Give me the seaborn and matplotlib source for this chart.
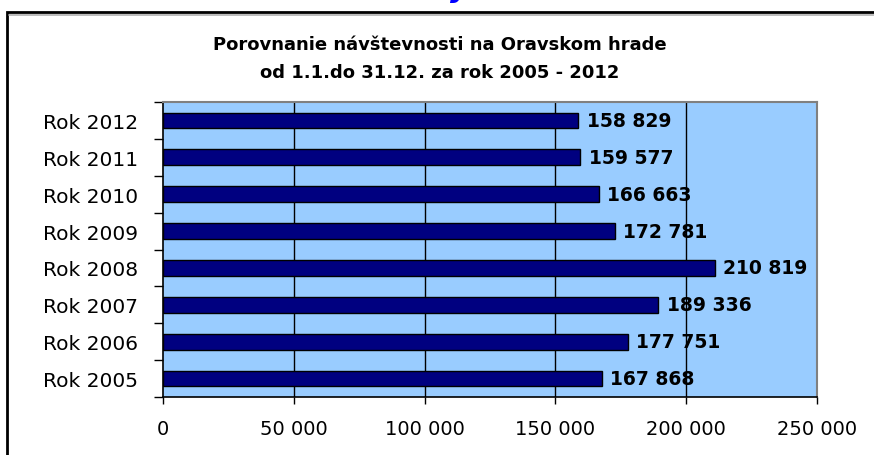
import pandas as pd
import matplotlib.pyplot as plt
import seaborn as sns
from matplotlib.patches import Rectangle
from matplotlib.lines import Line2D
from matplotlib.ticker import FixedLocator

# data
roky = ['Rok 2012', 'Rok 2011', 'Rok 2010', 'Rok 2009',
        'Rok 2008', 'Rok 2007', 'Rok 2006', 'Rok 2005']
navstevnost = [158829, 159577, 166663, 172781, 210819, 189336, 177751, 167868]
x_ticks = [0, 50000, 100000, 150000, 200000, 250000]
title_lines = ['Porovnanie návštevnosti na Oravskom hrade',
               'od 1.1.do 31.12. za rok 2005 - 2012']

df = pd.DataFrame({'rok': roky, 'navstevnost': navstevnost})


def sk_format(v):
    return f'{int(v):,}'.replace(',', ' ')


sns.set_style('white')
plt.rcParams['font.family'] = ['DejaVu Sans']
plt.rcParams['text.color'] = 'black'

W, H = 874, 456
fig = plt.figure(figsize=(W / 100, H / 100), dpi=100)
ax = fig.add_axes([163 / W, 1 - 398 / H, (817 - 163) / W, (398 - 103) / H])
ax.set_facecolor('#99CCFF')

sns.barplot(data=df, x='navstevnost', y='rok', orient='h', order=roky,
            color='#000080', saturation=1, edgecolor='black', linewidth=1,
            width=0.43, ax=ax)

ax.set_xlim(0, 250000)
ax.set_ylim(7.5, -0.5)
ax.set_xlabel('')
ax.set_ylabel('')

# vertical grid lines (inner ones only)
ax.set_axisbelow(True)
ax.set_xticks(x_ticks)
ax.set_xticklabels([sk_format(t) for t in x_ticks])
ax.xaxis.grid(True, color='black', linewidth=1)
gl = ax.get_xgridlines()
gl[0].set_visible(False)
gl[-1].set_visible(False)

# ticks
ax.tick_params(axis='x', which='major', bottom=True, direction='out', length=5,
               width=1, color='black', labelcolor='black', labelsize=14, pad=11)
ax.tick_params(axis='y', which='major', left=False, length=0, pad=18,
               labelcolor='black', labelsize=14.5)
ax.yaxis.set_minor_locator(FixedLocator([i - 0.5 for i in range(len(roky) + 1)]))
ax.tick_params(axis='y', which='minor', left=True, direction='out', length=6.5,
               width=1, color='black')

for side in ['left', 'bottom']:
    ax.spines[side].set_color('black')
    ax.spines[side].set_linewidth(1.2)
for side in ['top', 'right']:
    ax.spines[side].set_color('#808080')
    ax.spines[side].set_linewidth(1.5)

# value labels
ax.bar_label(ax.containers[0], labels=[sk_format(v) for v in navstevnost],
             padding=6, fontsize=13.5, fontweight='bold', color='black')

# title
fig.text(440 / W, 1 - 45 / H, title_lines[0], ha='center', va='center',
         fontsize=13, fontweight='bold', color='black')
fig.text(440 / W, 1 - 73 / H, title_lines[1], ha='center', va='center',
         fontsize=13, fontweight='bold', color='black')

# chart frame with a faint shadow, and the clipped heading above it
fig.lines.append(Line2D([9 / W, 1.0], [1 - 15.5 / H, 1 - 15.5 / H],
                        color='#B0B0B0', linewidth=1.2,
                        transform=fig.transFigure))
fig.patches.append(Rectangle((7 / W, -0.2), 1.2, 1.2 - 13 / H, fill=False,
                             edgecolor='black', linewidth=2,
                             transform=fig.transFigure))
fig.text(450 / W, 1 + 6 / H, 'y', color='#0000FF', fontsize=30,
         style='italic', ha='left', va='baseline')

fig.savefig('out.png', dpi=100)
